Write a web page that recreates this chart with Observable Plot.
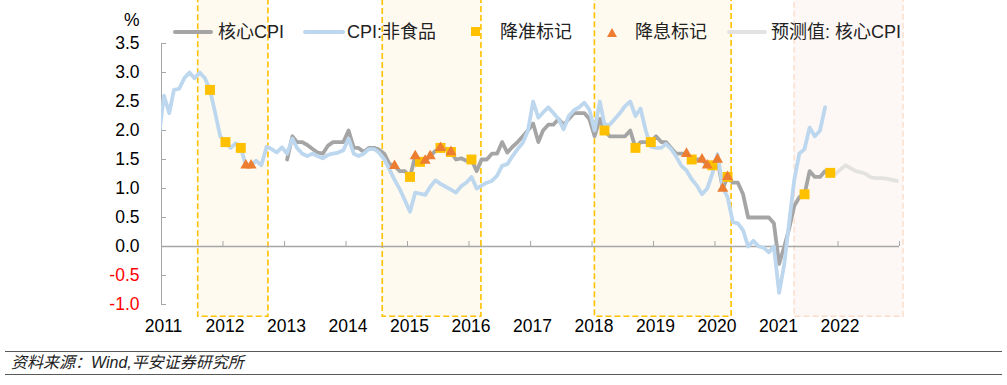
<!DOCTYPE html>
<html><head><meta charset="utf-8">
<script src="https://cdn.jsdelivr.net/npm/d3@7"></script>
<script src="https://cdn.jsdelivr.net/npm/@observablehq/plot@0.6"></script>
<style>
body{margin:0;background:#fff;font-family:"Liberation Sans",Arial,"Noto Sans CJK SC",sans-serif;}
#wrap{position:relative;width:1007px;height:385px;overflow:hidden;}
#chart svg{display:block;}
.lg{position:absolute;font-size:18px;line-height:20px;top:22px;color:#222;white-space:nowrap;}
.sw{position:absolute;}
#cap{position:absolute;left:5px;top:351px;width:997px;height:24px;box-sizing:border-box;border-top:1px solid #595959;border-bottom:1px solid #595959;font-style:italic;font-size:16px;line-height:22px;padding-left:6px;color:#222;}
</style></head>
<body>
<div id="wrap">
  <div id="chart"></div>
  <div id="legend">
    <div class="sw" style="left:173px;top:30px;width:40px;height:4px;border-radius:2px;background:#a5a5a5"></div>
    <div class="lg" style="left:218px">核心CPI</div>
    <div class="sw" style="left:303px;top:30px;width:42px;height:4px;border-radius:2px;background:#bdd7ee"></div>
    <div class="lg" style="left:347px">CPI:非食品</div>
    <div class="sw" style="left:471px;top:27px;width:9px;height:9px;background:#ffc000"></div>
    <div class="lg" style="left:500px">降准标记</div>
    <div class="sw" style="left:607px;top:28px;width:0;height:0;border-left:5px solid transparent;border-right:5px solid transparent;border-bottom:9px solid #ed7d31"></div>
    <div class="lg" style="left:635px">降息标记</div>
    <div class="sw" style="left:727px;top:30px;width:40px;height:4px;border-radius:2px;background:#e4e2e1"></div>
    <div class="lg" style="left:771px">预测值: 核心CPI</div>
  </div>
  <div id="cap">资料来源：Wind,平安证券研究所</div>
</div>
<script>
// ---- data ----
const nonFoodStart = "2010-12";
const nonFoodValues = [
  1.9,
  2.6, 2.3, 2.7, 2.72, 2.9, 3.0, 2.9, 3.0, 2.9, 2.7, 2.3, 1.9,
  1.8, 1.7, 1.78, 1.7, 1.4, 1.4, 1.48, 1.4, 1.72, 1.68, 1.62, 1.71,
  1.6, 1.86, 1.7, 1.6, 1.56, 1.6, 1.56, 1.52, 1.58, 1.6, 1.62, 1.66,
  1.86, 1.6, 1.56, 1.6, 1.68, 1.68, 1.62, 1.5, 1.33, 1.15, 0.99, 0.8,
  0.6, 0.93, 0.91, 0.89, 1.03, 1.14, 1.08, 1.03, 0.98, 0.93, 1.04, 1.1,
  1.2, 1.0, 1.05, 1.1, 1.13, 1.22, 1.39, 1.42, 1.56, 1.68, 1.79, 1.99,
  2.5, 2.22, 2.31, 2.4, 2.3, 2.2, 2.02, 2.25, 2.35, 2.4, 2.48, 2.36,
  2.0, 2.5, 2.1, 2.1, 2.2, 2.3, 2.42, 2.5, 2.25, 2.38, 2.0, 1.72,
  1.7, 1.7, 1.77, 1.68, 1.55, 1.39, 1.31, 1.16, 1.05, 0.9, 1.0, 1.25,
  1.59, 1.02, 0.85, 0.42, 0.4, 0.28, 0.0, 0.1, 0.0, -0.02, -0.1, 0.0,
  -0.8, -0.3, 0.4, 1.15, 1.6, 1.68, 2.05, 1.9, 2.0, 2.4
];
const coreStart = "2013-01";
const coreValues = [
  1.5, 1.9, 1.8, 1.8, 1.75, 1.68, 1.62, 1.6, 1.74, 1.8, 1.8, 1.8,
  2.0, 1.7, 1.7, 1.63, 1.7, 1.7, 1.67, 1.6, 1.42, 1.39, 1.3, 1.3,
  1.2, 1.56, 1.46, 1.48, 1.56, 1.65, 1.7, 1.68, 1.63, 1.5, 1.52, 1.48,
  1.5, 1.3, 1.5, 1.5, 1.6, 1.6, 1.8, 1.62, 1.72, 1.8, 1.9, 2.0,
  2.12, 1.8, 2.0, 2.1, 2.1, 2.2, 2.1, 2.2, 2.3, 2.3, 2.3, 2.2,
  1.9, 2.2, 2.0, 1.9, 1.9, 1.9, 1.9, 2.0, 1.7, 1.8, 1.8, 1.8,
  1.9, 1.8, 1.8, 1.7, 1.6, 1.6, 1.6, 1.5, 1.5, 1.5, 1.4, 1.4,
  1.5, 1.0, 1.2, 1.1, 1.1, 0.9, 0.5, 0.5, 0.5, 0.5, 0.5, 0.4,
  -0.3, 0.0, 0.3, 0.7, 0.85, 0.9, 1.3, 1.2, 1.2, 1.3, 1.27
];
const forecastStart = "2021-11";
const forecastValues = [1.27, 1.25, 1.33, 1.4, 1.35, 1.3, 1.28, 1.25, 1.19, 1.18, 1.18, 1.17, 1.15, 1.13];

const rrrMonths = ["2011-10","2012-01","2012-04","2015-01","2015-03","2015-07","2015-09","2016-01","2018-03","2018-09","2018-12","2019-08","2019-12","2020-03","2021-06","2021-11"];
const rrrValues = [2.7, 1.8, 1.7, 1.2, 1.46, 1.7, 1.63, 1.5, 2.0, 1.7, 1.8, 1.5, 1.4, 1.2, 0.9, 1.27];
const rateMonths = ["2012-05","2012-06","2014-10","2015-02","2015-04","2015-05","2015-07","2015-09","2019-07","2019-10","2019-11","2020-01","2020-02","2020-03"];
const rateValues = [1.4, 1.4, 1.39, 1.56, 1.48, 1.56, 1.7, 1.63, 1.6, 1.5, 1.4, 1.5, 1.0, 1.2];

const easingStarts = ["2011-08-07","2014-08-07","2018-01-18"];
const easingEnds = ["2012-09-27","2016-03-15","2020-04-09"];
const forecastBandStart = ["2021-04-18"];
const forecastBandEnd = ["2023-01-25"];
const bandLow = -1.21, bandHigh = 4.3;

const yTicks = [-1, -0.5, 0, 0.5, 1, 1.5, 2, 2.5, 3, 3.5];
const yTicksNeg = [-1, -0.5];
const yTicksPos = [0, 0.5, 1, 1.5, 2, 2.5, 3, 3.5];
const tickYears = [2011,2012,2013,2014,2015,2016,2017,2018,2019,2020,2021,2022,2023];
const labelYears = [2011,2012,2013,2014,2015,2016,2017,2018,2019,2020,2021,2022];
const xDomain = ["2011-01-01","2023-01-01"];

// ---- helpers ----
const toDate = s => { const p = s.split("-").map(Number); return new Date(Date.UTC(p[0], p[1]-1, p[2] ?? 16)); };
const seq = (start, vals) => { const [y, m] = start.split("-").map(Number); return vals.map((v, i) => ({date: new Date(Date.UTC(y, m - 1 + i, 16)), value: v})); };
const pts = (months, vals) => months.map((m, i) => ({date: toDate(m), value: vals[i]}));
const bands = (s, e) => s.map((d, i) => ({x1: toDate(d), x2: toDate(e[i]), y1: bandLow, y2: bandHigh}));

const nonFood = seq(nonFoodStart, nonFoodValues);
const core = seq(coreStart, coreValues);
const forecast = seq(forecastStart, forecastValues);
const rrr = pts(rrrMonths, rrrValues);
const rate = pts(rateMonths, rateValues);
const x0 = toDate(xDomain[0]);
const yearDates = tickYears.map(y => new Date(Date.UTC(y, 0, 1)));
const labelDates = labelYears.map(y => new Date(Date.UTC(y, 0, 1)));

const axisColor = "#a6a6a6";
const fontFamily = '"Liberation Sans", Arial, "Noto Sans CJK SC", sans-serif';

const chart = Plot.plot({
  width: 1007, height: 345,
  marginTop: 43, marginBottom: 41, marginLeft: 161, marginRight: 108,
  style: {fontFamily, background: "transparent", overflow: "visible"},
  x: {type: "utc", domain: xDomain.map(toDate)},
  y: {domain: [-1, 3.5]},
  marks: [
    Plot.rect(bands(easingStarts, easingEnds), {x1: "x1", x2: "x2", y1: "y1", y2: "y2", fill: "#fefaf0", stroke: "#ffc000", strokeWidth: 1.6, strokeDasharray: "6,3"}),
    Plot.rect(bands(forecastBandStart, forecastBandEnd), {x1: "x1", x2: "x2", y1: "y1", y2: "y2", fill: "#fdf8f5", stroke: "#fadccb", strokeWidth: 1.4, strokeDasharray: "6,3"}),
    Plot.frame({anchor: "left", stroke: axisColor}),
    Plot.ruleY(yTicks, {y: d => d, x1: () => x0, x2: () => x0, insetRight: -5, stroke: axisColor}),
    Plot.ruleY([0], {stroke: axisColor, strokeWidth: 1.3}),
    Plot.ruleX(yearDates, {x: d => d, y1: () => 0, y2: () => 0, insetTop: -5, stroke: axisColor}),
    Plot.axisY(yTicksPos, {tickSize: 0, tickPadding: 22, tickFormat: d => d.toFixed(1), fontSize: 17.5, fill: "#000", label: null}),
    Plot.axisY(yTicksNeg, {tickSize: 0, tickPadding: 22, tickFormat: d => d.toFixed(1), fontSize: 17.5, fill: "#ff0000", label: null}),
    Plot.axisX(labelDates, {tickSize: 0, tickPadding: 15, tickFormat: "%Y", fontSize: 17.5, fill: "#000", dx: 2, label: null}),
    Plot.text(["%"], {frameAnchor: "top-left", textAnchor: "end", dx: -22, dy: -30, fontSize: 17.5, fill: "#000"}),
    Plot.line(core, {x: "date", y: "value", stroke: "#a5a5a5", strokeWidth: 3.8, strokeLinejoin: "round", strokeLinecap: "round", clip: true}),
    Plot.line(nonFood, {x: "date", y: "value", stroke: "#bdd7ee", strokeWidth: 3.8, strokeLinejoin: "round", strokeLinecap: "round", clip: true}),
    Plot.line(forecast, {x: "date", y: "value", stroke: "#e4e2e1", strokeWidth: 3.8, strokeLinejoin: "round", strokeLinecap: "round", clip: true}),
    Plot.dot(rrr, {x: "date", y: "value", symbol: "square", r: 5.6, fill: "#ffc000"}),
    Plot.dot(rate, {x: "date", y: "value", symbol: "triangle", r: 4.1, fill: "#ed7d31"})
  ]
});
document.getElementById("chart").appendChild(chart);
</script>
</body></html>
